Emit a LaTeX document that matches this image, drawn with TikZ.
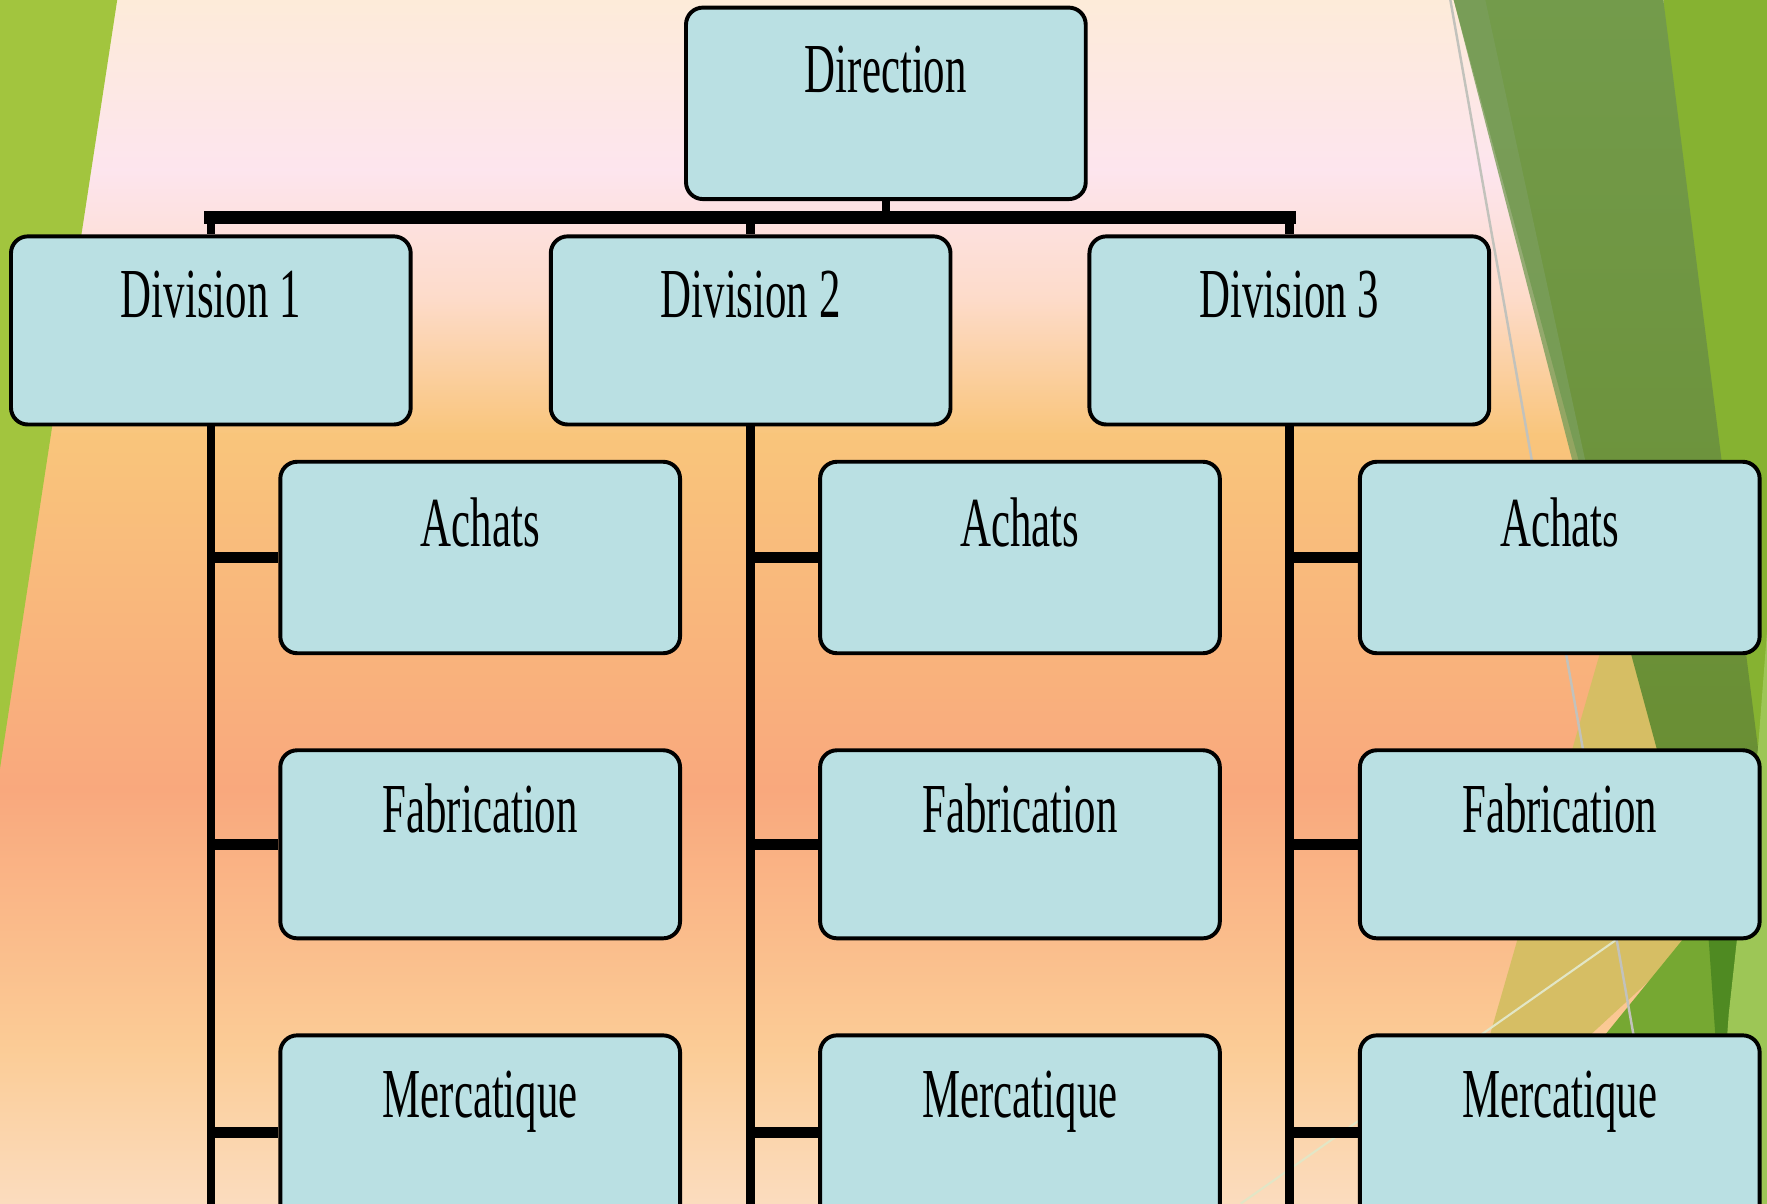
\documentclass[tikz,border=0pt]{standalone}
\usepackage{fontspec}
\setmainfont{Liberation Serif}
\usepackage{graphicx}
\newcommand\orgfont{\fontsize{20}{24}\selectfont}
\newcommand\orgtxt[1]{\scalebox{0.61}[1]{#1}}
\definecolor{boxfill}{HTML}{BAE0E3}
\definecolor{bgA}{HTML}{FDEBD9}
\definecolor{bgB}{HTML}{FDE5EE}
\definecolor{bgC}{HTML}{FDDBC9}
\definecolor{bgD}{HTML}{F9C57B}
\definecolor{bgE}{HTML}{F9A87D}
\definecolor{bgF}{HTML}{FBCC96}
\definecolor{bgG}{HTML}{FBDCBE}
\definecolor{gleft}{HTML}{A2C53E}
\definecolor{gbright}{HTML}{86B231}
\definecolor{glight}{HTML}{9DC656}
\definecolor{golive}{HTML}{739B4B}
\definecolor{golivedark}{HTML}{668A2C}
\definecolor{golivepale}{HTML}{7A9E5B}
\definecolor{ggold}{HTML}{D6BE64}
\definecolor{gmid}{HTML}{76A832}
\definecolor{gdark}{HTML}{4F8A22}
\definecolor{glinegray}{HTML}{C2C2BC}
\definecolor{glinepale}{HTML}{E2E6C6}
\begin{document}
\begin{tikzpicture}[x=0.0112691cm,y=-0.0112691cm,
  orgbox/.style={draw=black, line width=1.12pt, fill=boxfill, rounded corners=4.8pt,
    inner sep=0pt, minimum width=113.8pt, anchor=north west, font=\orgfont},
  hbar/.style={line width=3.69pt, line cap=rect},
  stem/.style={line width=2.45pt},
  stub/.style={line width=3.2pt},
  r1/.style={text height=24.05pt, text depth=30.46pt},
  r2/.style={text height=23.4pt, text depth=30.14pt},
  r3/.style={text height=23.4pt, text depth=31.74pt},
]
\useasboundingbox (0,0) rectangle (1568,1068);
\begin{scope}
\clip (0,0) rectangle (1568,1068);
% background gradient
\shade[top color=bgA, bottom color=bgB] (0,0) rectangle (1568,152);
\shade[top color=bgB, bottom color=bgC] (0,150) rectangle (1568,267);
\shade[top color=bgC, bottom color=bgD] (0,265) rectangle (1568,387);
\shade[top color=bgD, bottom color=bgE] (0,385) rectangle (1568,702);
\shade[top color=bgE, bottom color=bgF] (0,700) rectangle (1568,932);
\shade[top color=bgF, bottom color=bgG] (0,930) rectangle (1568,1068);
% left green facet
\fill[gleft] (0,0) -- (104,0) -- (0,682) -- cycle;
% right green facets
\fill[gbright] (1476,0) -- (1568,0) -- (1568,1068) -- (1490,1068) -- cycle;
\fill[ggold] (1434,530) -- (1480,690) -- (1505,832) -- (1290,1030) -- cycle;
\fill[gmid] (1370,985) -- (1545,770) -- (1545,1068) -- (1370,1068) -- cycle;
\shade[top color=golive, bottom color=golivedark] (1290,0) -- (1476,0) -- (1560,664) -- (1534,900) -- cycle;
\fill[golivepale, opacity=0.8] (1290,0) -- (1318,0) -- (1420,470) -- (1411,470) -- cycle;
\fill[gdark] (1516,830) -- (1550,780) -- (1540,917) -- (1522,917) -- cycle;
\fill[glight] (1568,560) -- (1568,1068) -- (1522,1068) -- (1534,900) -- (1560,664) -- cycle;
\draw[glinepale, line width=0.6pt] (1101,1068) -- (1437,832);
\draw[glinegray, line width=0.7pt] (1287,0) -- (1476,1068);
\end{scope}
% boxes
\node[orgbox, r1] (dir) at (607,5) {\orgtxt{Direction}};
\node[orgbox, text height=23.1pt, text depth=30.46pt] (d1) at (8,208) {\orgtxt{Division 1}};
\node[orgbox, text height=23.1pt, text depth=30.46pt] (d2) at (487,208) {\orgtxt{Division 2}};
\node[orgbox, text height=23.1pt, text depth=30.46pt] (d3) at (965,208) {\orgtxt{Division 3}};
\node[orgbox, r1] (a1) at (247,408) {\orgtxt{Achats}};
\node[orgbox, r1] (a2) at (726,408) {\orgtxt{Achats}};
\node[orgbox, r1] (a3) at (1205,408) {\orgtxt{Achats}};
\node[orgbox, r2] (f1) at (247,664) {\orgtxt{Fabrication}};
\node[orgbox, r2] (f2) at (726,664) {\orgtxt{Fabrication}};
\node[orgbox, r2] (f3) at (1205,664) {\orgtxt{Fabrication}};
\coordinate (barY) at (0,193);
\coordinate (bot) at (0,1090);
% connectors
\draw[stem] (dir.south) -- (dir.south |- barY);
\draw[hbar] (d1.north |- barY) -- (d3.north |- barY);
\draw[stem] (d1.north |- barY) -- (d1.north);
\draw[stem] (d2.north |- barY) -- (d2.north);
\draw[stem] (d3.north |- barY) -- (d3.north);
\begin{scope}
\clip (0,0) rectangle (1568,1068);
\node[orgbox, r3] (m1) at (247,917) {\orgtxt{Mercatique}};
\node[orgbox, r3] (m2) at (726,917) {\orgtxt{Mercatique}};
\node[orgbox, r3] (m3) at (1205,917) {\orgtxt{Mercatique}};
\draw[stem] (d1.south) -- (d1.south |- bot);
\draw[stem] (d2.south) -- (d2.south |- bot);
\draw[stem] (d3.south) -- (d3.south |- bot);
\end{scope}
\draw[stub] (d1.south |- a1.west) -- (a1.west);
\draw[stub] (d1.south |- f1.west) -- (f1.west);
\draw[stub] (d1.south |- m1.west) -- (m1.west);
\draw[stub] (d2.south |- a2.west) -- (a2.west);
\draw[stub] (d2.south |- f2.west) -- (f2.west);
\draw[stub] (d2.south |- m2.west) -- (m2.west);
\draw[stub] (d3.south |- a3.west) -- (a3.west);
\draw[stub] (d3.south |- f3.west) -- (f3.west);
\draw[stub] (d3.south |- m3.west) -- (m3.west);
\end{tikzpicture}
\end{document}
